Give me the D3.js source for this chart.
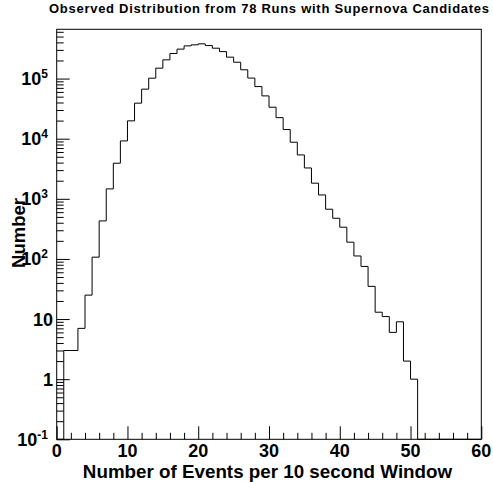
<!DOCTYPE html>
<html>
<head>
<meta charset="utf-8">
<script src="https://cdn.jsdelivr.net/npm/d3@7"></script>
<style>
  html, body { margin: 0; padding: 0; background: #fff; }
  svg { display: block; }
  text { font-family: "Liberation Sans", Arial, Helvetica, sans-serif; font-weight: bold; fill: #000; }
</style>
</head>
<body>
<svg id="chart" width="493" height="482"></svg>
<script>
// ---- data ----
const titleText = "Observed Distribution from 78 Runs with Supernova Candidates";
const xTitle = "Number of Events per 10 second Window";
const yTitle = "Number";
// bin lower edges (width 1) and counts
const binLow = d3.range(0, 60, 1);
const counts = [0, 3, 3, 7, 25, 107, 429, 1463, 3910, 9180,
  19800, 39000, 66700, 101600, 149000, 205000, 261000, 309000, 350000, 364000,
  378000, 354000, 320000, 281000, 227000, 187000, 140000, 102000, 73600, 51500,
  33400, 22400, 14200, 8740, 5370, 3260, 1820, 1160, 671, 475,
  337, 190, 112, 75, 35, 13, 11, 6, 9, 2,
  1, 0, 0, 0, 0, 0, 0, 0, 0, 0];
const xTicks = [0, 10, 20, 30, 40, 50, 60];
const xTickLabels = ["0", "10", "20", "30", "40", "50", "60"];
const yTicks = [0.1, 1, 10, 100, 1000, 10000, 100000];
const yTickBase = ["10", "1", "10", "10", "10", "10", "10"];
const yTickExp = ["-1", "", "", "2", "3", "4", "5"];

(function () {
// ---- layout ----
const mLeft = 56.7, mRight = 481.3, mTop = 29.3, mBottom = 439.3;
const svg = d3.select("#chart");

const x = d3.scaleLinear().domain([0, 60]).range([mLeft, mRight]);
const y = d3.scaleLog().domain([0.1, 6.6e5]).range([mBottom, mTop]);

// minor ticks
const xMinor = d3.range(0, 61, 2).filter(v => v % 10 !== 0);
const yMinor = [];
for (let e = -1; e <= 5; e++) {
  for (let m = 2; m <= 9; m++) {
    const v = m * Math.pow(10, e);
    if (v <= 6.6e5) yMinor.push(v);
  }
}

// histogram path
const ymin = 0.1;
const pts = [[x(0), y(ymin)]];
counts.forEach((c, i) => {
  const v = Math.max(c, ymin);
  pts.push([x(binLow[i]), y(v)]);
  pts.push([x(binLow[i] + 1), y(v)]);
});
pts.push([x(60), y(ymin)]);
svg.append("path")
  .attr("d", d3.line()(pts))
  .attr("fill", "none")
  .attr("stroke", "#000")
  .attr("stroke-width", 1);

// axes (ticks inward)
const gx = svg.append("g").attr("transform", `translate(0,${mBottom})`);
gx.call(d3.axisBottom(x).tickValues(xTicks).tickSizeInner(-13).tickSizeOuter(0).tickFormat(""));
const gxm = svg.append("g").attr("transform", `translate(0,${mBottom})`);
gxm.call(d3.axisBottom(x).tickValues(xMinor).tickSizeInner(-6.5).tickSizeOuter(0).tickFormat(""));

const gy = svg.append("g").attr("transform", `translate(${mLeft},0)`);
gy.call(d3.axisLeft(y).tickValues(yTicks).tickSizeInner(-13).tickSizeOuter(0).tickFormat(""));
const gym = svg.append("g").attr("transform", `translate(${mLeft},0)`);
gym.call(d3.axisLeft(y).tickValues(yMinor).tickSizeInner(-7).tickSizeOuter(0).tickFormat(""));

svg.selectAll(".domain").remove();
svg.selectAll(".tick line").attr("stroke", "#000").attr("stroke-width", 1);

// frame
svg.append("rect")
  .attr("x", mLeft).attr("y", mTop)
  .attr("width", mRight - mLeft).attr("height", mBottom - mTop)
  .attr("fill", "none").attr("stroke", "#000").attr("stroke-width", 1);

// x tick labels
svg.selectAll(".xl").data(xTicks).enter().append("text")
  .attr("class", "xl")
  .attr("x", d => x(d))
  .attr("y", 456.5)
  .attr("text-anchor", "middle")
  .style("font-size", "18px")
  .text((d, i) => xTickLabels[i]);

// y tick labels
yTicks.forEach((v, i) => {
  const t = svg.append("text")
    .attr("y", y(v) + 6.5)
    .attr("text-anchor", "end")
    .style("font-size", "18px");
  if (yTickExp[i]) {
    t.attr("x", 48);
    t.append("tspan").text(yTickBase[i]);
    t.append("tspan").attr("dy", -7).style("font-size", "12px").text(yTickExp[i]);
  } else {
    t.attr("x", 53).text(yTickBase[i]);
  }
});

// titles
svg.append("text")
  .attr("x", 269).attr("y", 12.5)
  .attr("text-anchor", "middle")
  .attr("textLength", 440)
  .attr("lengthAdjust", "spacing")
  .style("font-size", "13px")
  .text(titleText);

svg.append("text")
  .attr("x", 267.5).attr("y", 477.5)
  .attr("text-anchor", "middle")
  .style("font-size", "18.8px")
  .text(xTitle);

svg.append("text")
  .attr("transform", `translate(25,233) rotate(-90)`)
  .attr("text-anchor", "middle")
  .style("font-size", "18.5px")
  .text(yTitle);
})();
</script>
</body>
</html>
